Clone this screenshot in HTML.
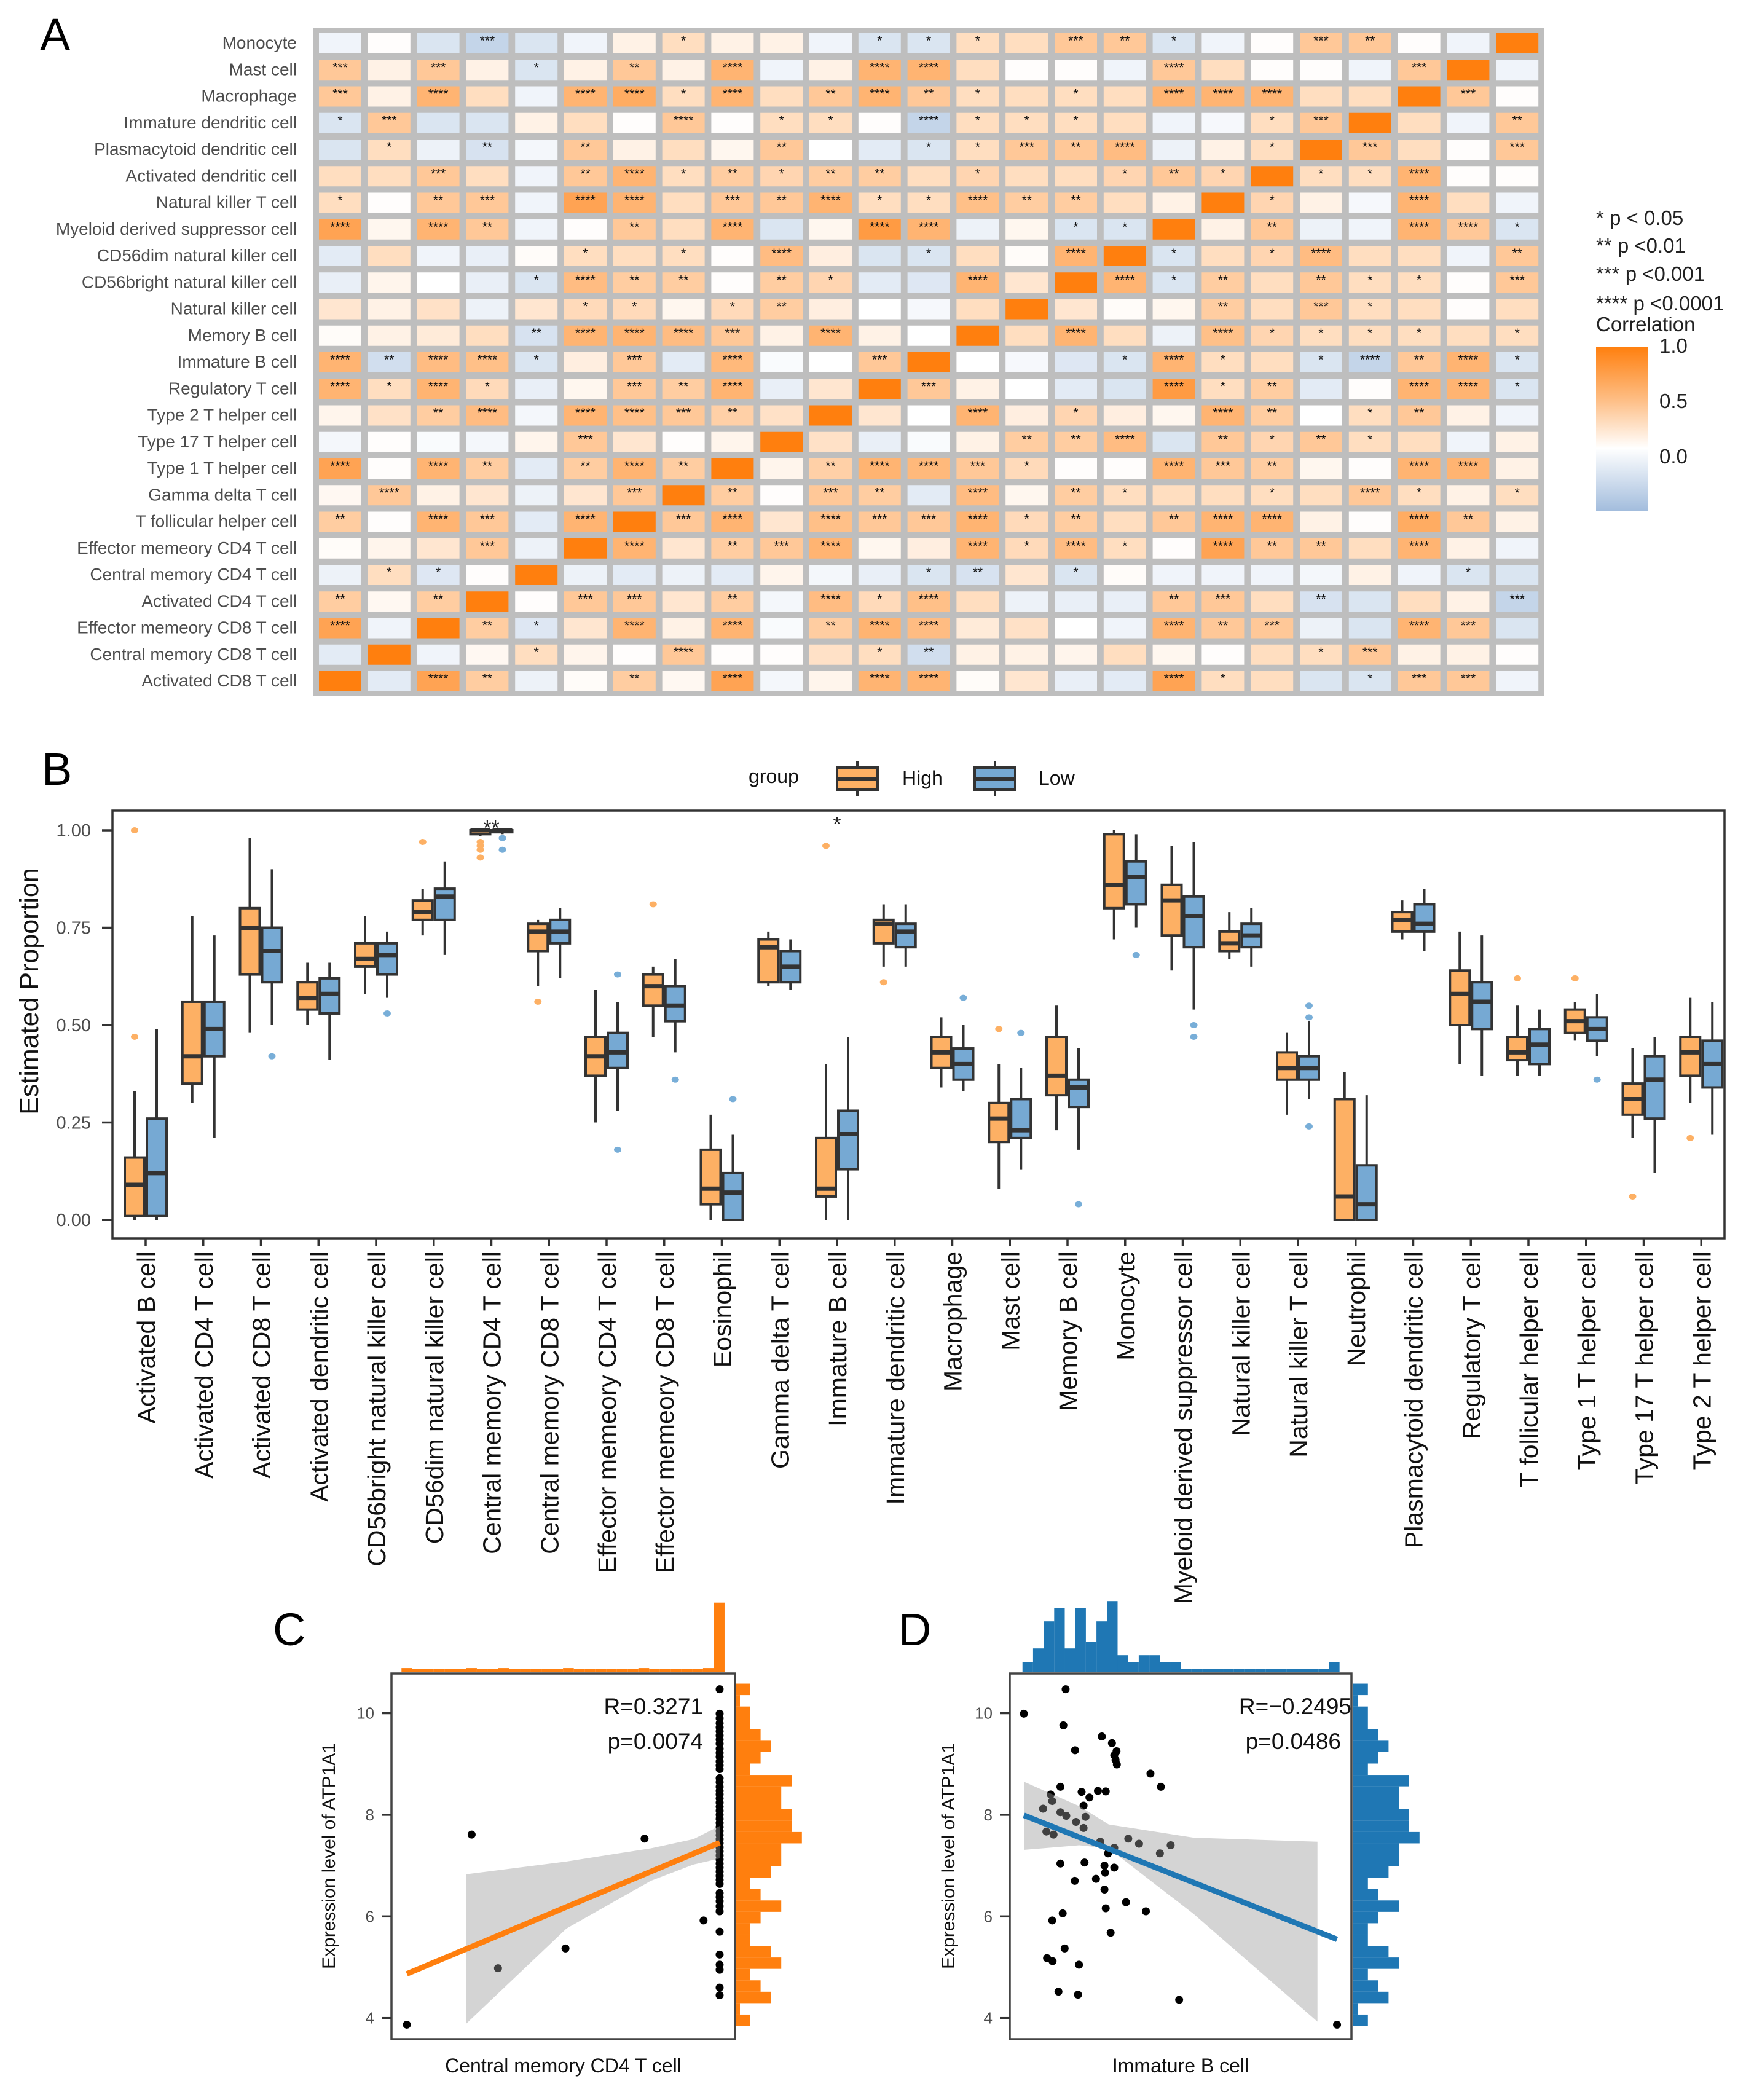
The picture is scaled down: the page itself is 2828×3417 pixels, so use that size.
<!DOCTYPE html>
<html><head><meta charset="utf-8"><style>
html,body{margin:0;padding:0;background:#fff}
svg{display:block;font-family:"Liberation Sans",Arial,sans-serif}
</style></head><body>
<svg id="fig" xmlns="http://www.w3.org/2000/svg" width="2828" height="3417" viewBox="0 0 2828 3417">
<rect width="2828" height="3417" fill="#fff"/>
<text x="65" y="82" font-size="74" fill="#000">A</text>
<text x="68" y="1277" font-size="74" fill="#000">B</text>
<text x="444" y="2677" font-size="74" fill="#000">C</text>
<text x="1462" y="2677" font-size="74" fill="#000">D</text>
<g id="heat"></g>
<g id="legA">
<text x="2597" y="366" font-size="33" fill="#222">* p &lt; 0.05</text>
<text x="2597" y="411" font-size="33" fill="#222">** p &lt;0.01</text>
<text x="2597" y="457" font-size="33" fill="#222">*** p &lt;0.001</text>
<text x="2597" y="505" font-size="33" fill="#222">**** p &lt;0.0001</text>
<text x="2597" y="539" font-size="33" fill="#222">Correlation</text>
<defs><linearGradient id="cg" x1="0" y1="0" x2="0" y2="1">
<stop offset="0" stop-color="#FF7F0E"/><stop offset="0.33" stop-color="#FEBF87"/><stop offset="0.62" stop-color="#FFFFFF"/><stop offset="1" stop-color="#A3BDDD"/></linearGradient></defs>
<rect x="2597" y="564" width="84" height="267" fill="url(#cg)"/>
<text x="2700" y="574" font-size="33" fill="#222">1.0</text>
<text x="2700" y="664" font-size="33" fill="#222">0.5</text>
<text x="2700" y="754" font-size="33" fill="#222">0.0</text>
</g>
<g id="boxB"></g>
<g id="pC"></g>
<g id="pD"></g>
</svg>
<script>
const NS='http://www.w3.org/2000/svg';
function mk(tag,attrs,parent,txt){const e=document.createElementNS(NS,tag);for(const k in attrs)e.setAttribute(k,attrs[k]);if(txt!==undefined)e.textContent=txt;parent.appendChild(e);return e;}

/* ---------- Panel A data ---------- */
const heatRows=["Monocyte","Mast cell","Macrophage","Immature dendritic cell","Plasmacytoid dendritic cell","Activated dendritic cell","Natural killer T cell","Myeloid derived suppressor cell","CD56dim natural killer cell","CD56bright natural killer cell","Natural killer cell","Memory B cell","Immature  B cell","Regulatory T cell","Type 2 T helper cell","Type 17 T helper cell","Type 1 T helper cell","Gamma delta T cell","T follicular helper cell","Effector memeory CD4 T cell","Central memory CD4 T cell","Activated CD4 T cell","Effector memeory CD8 T cell","Central memory CD8 T cell","Activated CD8 T cell"];
const corrTri=[
[-.08,.01,-.2,-.32,-.2,-.08,.08,.2,.08,.08,-.08,-.2,-.2,.2,.2,.33,.33,-.2,-.08,.01,.33,.33,.01,-.08],
[.33,.08,.33,.08,-.2,.08,.33,.08,.45,-.08,.08,.45,.45,.2,.01,.01,-.08,.33,.2,.01,.01,-.08,.33],
[.33,.08,.45,.2,-.08,.45,.5,.2,.45,.2,.33,.45,.33,.2,.2,.2,.2,.45,.45,.45,.2,.2],
[-.2,.33,-.2,-.2,.08,.2,.01,.33,.01,.2,.2,.01,-.32,.2,.2,.2,.2,-.08,-.05,.2,.33],
[-.2,.2,-.1,-.22,-.06,.33,.08,.2,.05,.33,0,-.15,-.2,.2,.33,.33,.4,-.1,.08,.2],
[.2,.2,.33,.2,-.08,.33,.45,.2,.3,.25,.3,.3,.2,.25,.2,.2,.25,.33,.25],
[.2,.01,.33,.33,-.08,.55,.45,.2,.33,.33,.45,.2,.2,.38,.3,.3,.2,.08],
[.55,.05,.45,.33,-.08,.01,.33,.2,.45,-.2,.05,.6,.45,-.1,.05,-.2,-.2],
[-.15,.2,-.08,-.12,.02,.2,.2,.2,.01,.4,.1,-.2,-.2,.2,.02,.45],
[-.12,.06,0,-.12,-.2,.4,.3,.3,.01,.3,.25,-.15,-.18,.45,.15],
[.15,.08,.18,-.1,.15,.22,.22,.05,.22,.3,.1,0,-.05,.2],
[.02,.08,.12,.2,-.22,.45,.45,.4,.33,.08,.45,.08,0],
[.45,-.25,.4,.38,-.2,.1,.33,-.15,.42,-.03,0,.33],
[.45,.2,.45,.22,-.12,.05,.33,.3,.45,-.12,.15],
[.06,.18,.3,.4,-.06,.45,.38,.33,.28,.18],
[-.06,.01,-.03,-.06,.06,.33,.15,.01,.06],
[.55,.01,.45,.3,-.15,.3,.45,.3],
[.04,.33,.08,.15,-.1,.15,.33],
[.3,.01,.45,.33,-.15,.45],
[.02,.06,.15,.33,-.1],
[-.1,.2,-.18,.01],
[.3,.04,.3],
[.55,-.08],
[-.15],
[]];
const starTri=[
[0,0,0,3,0,0,0,1,0,0,0,1,1,1,0,3,2,1,0,0,3,2,0,0],
[3,0,3,0,1,0,2,0,4,0,0,4,4,0,0,0,0,4,0,0,0,0,3],
[3,0,4,0,0,4,4,1,4,0,2,4,2,1,0,1,0,4,4,4,0,0],
[1,3,0,0,0,0,0,4,0,1,1,0,4,1,1,1,0,0,0,1,3],
[0,1,0,2,0,2,0,0,0,2,0,0,1,1,3,2,4,0,0,1],
[0,0,3,0,0,2,4,1,2,1,2,2,0,1,0,0,1,2,1],
[1,0,2,3,0,4,4,0,3,2,4,1,1,4,2,2,0,0],
[4,0,4,2,0,0,2,0,4,0,0,4,4,0,0,1,1],
[0,0,0,0,0,1,0,1,0,4,0,0,1,0,0,4],
[0,0,0,0,1,4,2,2,0,2,1,0,0,4,0],
[0,0,0,0,0,1,1,0,1,2,0,0,0,0],
[0,0,0,0,2,4,4,4,3,0,4,0,0],
[4,2,4,4,1,0,3,0,4,0,0,3],
[4,1,4,1,0,0,3,2,4,0,0],
[0,0,2,4,0,4,4,3,2,0],
[0,0,0,0,0,3,0,0,0],
[4,0,4,2,0,2,4,2],
[0,4,0,0,0,0,3],
[2,0,4,3,0,4],
[0,0,0,3,0],
[0,1,1,0],
[2,0,2],
[4,0],
[0],
[]];
function mix(a,b,t){return 'rgb('+a.map((v,i)=>Math.round(v+(b[i]-v)*t)).join(',')+')';}
function corrColor(r){if(r>=0)return mix([255,255,255],[255,127,14],Math.min(1,r>=0.99?1:r*1.3));return mix([255,255,255],[163,189,221],Math.min(1,-r/0.5));}
(function(){
const g=document.getElementById('heat');const N=25;
const bg=mk('rect',{x:510,y:45,width:2003,height:1088,fill:'#BEBEBE'},g);


const cx0=519,pitchX=79.8,cy0=54,pitchY=43.25,cw=69,ch=33;
for(let r=0;r<N;r++){
 const lab=mk('text',{x:483,y:cy0+r*pitchY+25,'font-size':28,fill:'#4D4D4D','text-anchor':'end'},g,heatRows[r]);
 
 
 for(let c=0;c<N;c++){
  let v,s;
  if(c===N-1-r){v=1;s=0;}
  else if(c<N-1-r){v=corrTri[r][c];s=starTri[r][c];}
  else{v=corrTri[N-1-c][N-1-r];s=starTri[N-1-c][N-1-r];}
  const x=cx0+c*pitchX,y=cy0+r*pitchY;
  const rc=mk('rect',{x:x,y:y,width:cw,height:ch,fill:corrColor(v)},g);
  
  
  if(s>0){const t=mk('text',{x:x+cw/2,y:y+19,'font-size':21,fill:'#111','text-anchor':'middle'},g,'*'.repeat(s));
   
   }
 }
}
})();

/* ---------- Panel B data ---------- */
const cats=["Activated B cell","Activated CD4 T cell","Activated CD8 T cell","Activated dendritic cell","CD56bright natural killer cell","CD56dim natural killer cell","Central memory CD4 T cell","Central memory CD8 T cell","Effector memeory CD4 T cell","Effector memeory CD8 T cell","Eosinophil","Gamma delta T cell","Immature  B cell","Immature dendritic cell","Macrophage","Mast cell","Memory B cell","Monocyte","Myeloid derived suppressor cell","Natural killer cell","Natural killer T cell","Neutrophil","Plasmacytoid dendritic cell","Regulatory T cell","T follicular helper cell","Type 1 T helper cell","Type 17 T helper cell","Type 2 T helper cell"];
// [whiskerLow, q1, median, q3, whiskerHigh]
const highBox=[[0,.01,.09,.16,.33],[.30,.35,.42,.56,.78],[.48,.63,.75,.80,.98],[.50,.54,.57,.61,.66],[.58,.65,.67,.71,.78],[.73,.77,.79,.82,.85],[.985,.99,1,1,1],[.60,.69,.74,.76,.77],[.25,.37,.42,.47,.59],[.47,.55,.60,.63,.65],[0,.04,.08,.18,.27],[.60,.61,.70,.72,.74],[0,.06,.08,.21,.40],[.65,.71,.76,.77,.81],[.34,.39,.43,.47,.52],[.08,.20,.26,.30,.40],[.23,.32,.37,.47,.55],[.72,.80,.86,.99,1],[.64,.73,.82,.86,.96],[.67,.69,.71,.74,.79],[.27,.36,.39,.43,.48],[0,0,.06,.31,.38],[.72,.74,.77,.79,.82],[.40,.50,.58,.64,.74],[.37,.41,.43,.47,.55],[.46,.48,.51,.54,.56],[.21,.27,.31,.35,.44],[.30,.37,.43,.47,.57]];
const lowBox=[[0,.01,.12,.26,.49],[.21,.42,.49,.56,.73],[.50,.61,.69,.75,.90],[.41,.53,.58,.62,.66],[.57,.63,.68,.71,.74],[.68,.77,.83,.85,.92],[.99,.995,1,1,1],[.62,.71,.74,.77,.80],[.28,.39,.43,.48,.56],[.43,.51,.55,.60,.67],[0,0,.07,.12,.22],[.59,.61,.65,.69,.72],[0,.13,.22,.28,.47],[.65,.70,.74,.76,.81],[.33,.36,.40,.44,.50],[.13,.21,.23,.31,.39],[.18,.29,.34,.36,.44],[.75,.81,.88,.92,.99],[.54,.70,.78,.83,.97],[.65,.70,.73,.76,.80],[.31,.36,.39,.42,.51],[0,0,.04,.14,.32],[.69,.74,.76,.81,.85],[.37,.49,.56,.61,.73],[.37,.40,.45,.49,.54],[.42,.46,.49,.52,.58],[.12,.26,.36,.42,.47],[.22,.34,.40,.46,.56]];
const highOut=[[.47,1.0],[],[],[],[],[.97],[.93,.95,.96,.97],[.56],[],[.81],[],[],[.96],[.61],[],[.49],[],[],[],[],[],[],[],[],[.62],[.62],[.06],[.21]];
const lowOut=[[],[],[.42],[],[.53],[],[.95,.98],[],[.63,.18],[.36],[.31],[],[],[],[.57],[.48],[.04],[.68],[.50,.47],[],[.55,.52,.24],[],[],[],[],[.36],[],[]];
const sigLabels=[["Central memory CD4 T cell","**",1.01],["Immature  B cell","*",1.02]];
(function(){
const g=document.getElementById('boxB');
const L=183,R=2806,T=1319,B=2015;
const yS=v=>1985-v*634; const xS=i=>237+i*93.75;
mk('rect',{x:L,y:T,width:R-L,height:B-T,fill:'none',stroke:'#333','stroke-width':3.5},g);
[0,.25,.5,.75,1].forEach(v=>{
 mk('line',{x1:166,x2:L,y1:yS(v),y2:yS(v),stroke:'#333','stroke-width':3.5},g);
 const t=mk('text',{x:148,y:yS(v)+10,'font-size':29,fill:'#4D4D4D','text-anchor':'end'},g,v.toFixed(2));
 
 
});
const yt=mk('text',{x:0,y:0,'font-size':43,fill:'#111','text-anchor':'middle',transform:'translate(62,1613) rotate(-90)'},g,'Estimated Proportion');


const series=[{box:highBox,out:highOut,fill:'#FDB064',pt:'#FDB064',off:-18,name:'high'},{box:lowBox,out:lowOut,fill:'#76A9D3',pt:'#78AED8',off:18,name:'low'}];
cats.forEach((c,i)=>{
 const cx=xS(i);
 mk('line',{x1:cx,x2:cx,y1:B,y2:B+12,stroke:'#333','stroke-width':3.5},g);
 const t=mk('text',{x:0,y:0,'font-size':41,fill:'#111','text-anchor':'end',transform:'translate('+(cx+15)+',2036) rotate(-90)'},g,c);
 
 
 series.forEach(s=>{
  const b=s.box[i],x=cx+s.off,w=32;
  const wl=mk('line',{x1:x,x2:x,y1:yS(b[0]),y2:yS(b[4]),stroke:'#333','stroke-width':4},g);
  
  
  const r=mk('rect',{x:x-w/2,y:yS(b[3]),width:w,height:Math.max(2,yS(b[1])-yS(b[3])),fill:s.fill,stroke:'#333','stroke-width':4},g);
  
  
  const m=mk('line',{x1:x-w/2,x2:x+w/2,y1:yS(b[2]),y2:yS(b[2]),stroke:'#333','stroke-width':7},g);
  
  
  s.out[i].forEach(v=>{const o=mk('ellipse',{cx:x,cy:yS(v),rx:6,ry:5,fill:s.pt},g);
   
   });
 });
});
sigLabels.forEach(s=>{const i=cats.indexOf(s[0]);
 const t=mk('text',{x:xS(i),y:yS(s[2])+14,'font-size':34,fill:'#222','text-anchor':'middle'},g,s[1]);
 
 });
const lg=mk('g',{},g);
mk('text',{x:1218,y:1274,'font-size':32,fill:'#111'},lg,'group');
[[1362,'#FDB064','High',1468],[1586,'#76A9D3','Low',1690]].forEach(k=>{
 mk('line',{x1:k[0]+33,x2:k[0]+33,y1:1238,y2:1296,stroke:'#333','stroke-width':4},lg);
 mk('rect',{x:k[0],y:1249,width:66,height:36,fill:k[1],stroke:'#333','stroke-width':4},lg);
 mk('line',{x1:k[0],x2:k[0]+66,y1:1267,y2:1267,stroke:'#333','stroke-width':6},lg);
 const t=mk('text',{x:k[3],y:1277,'font-size':32,fill:'#111'},lg,k[2]);
 
 
});
})();

/* ---------- Panel C/D data ---------- */
const cX=[0.93,0.9445,0.9504,0.9655,0.9832,0.9964,1,1,1,1,1,1,1,1,1,1,1,1,1,1,1,1,1,1,1,1,1,1,1,1,1,1,1,1,1,1,1,1,1,1,1,1,1,1,1,1,1,1,1,1,1,1,1,1,1,1,1,1,1];
const cY=[3.87,7.61,4.98,5.37,7.53,5.92,10.47,9.99,9.9,9.8,9.72,9.64,9.56,9.48,9.4,9.3,9.22,9.14,9.05,8.97,8.9,8.72,8.64,8.55,8.47,8.4,8.32,8.24,8.16,8.08,8.0,7.92,7.84,7.76,7.68,7.6,7.52,7.44,7.36,7.28,7.2,7.12,7.04,6.96,6.88,6.8,6.72,6.64,6.46,6.38,6.3,6.2,6.1,5.7,5.25,5.05,4.95,4.6,4.45];
const cFit=[[0.93,4.87],[1.0,7.45]];
const cBandX=[0.9433,0.9657,0.9846,0.9941,1.0];
const cBandHi=[6.83,7.08,7.34,7.52,7.78];
const cBandLo=[3.89,5.76,6.70,7.02,7.14];
const cTopCounts=[1,0,0,0,0,0,1,0,0,1,0,0,0,0,0,1,0,0,0,0,0,0,1,0,0,0,0,0,1,57];
const dX=[0.128,0,0.121,0.239,0.270,0.157,0.284,0.277,0.281,0.285,0.388,0.420,0.112,0.082,0.177,0.227,0.251,0.201,0.087,0.183,0.059,0.112,0.130,0.189,0.160,0.183,0.069,0.091,0.234,0.320,0.353,0.450,0.277,0.258,0.417,0.112,0.186,0.247,0.277,0.249,0.221,0.156,0.247,0.313,0.119,0.251,0.374,0.087,0.266,0.125,0.071,0.088,0.169,0.106,0.166,0.476,0.960];
const dY=[10.47,9.99,9.76,9.54,9.41,9.27,9.25,9.17,9.08,8.99,8.81,8.55,8.55,8.40,8.45,8.47,8.46,8.34,8.27,8.18,8.12,8.05,7.98,7.96,7.86,7.74,7.67,7.61,7.47,7.53,7.43,7.40,7.35,7.24,7.24,7.04,7.06,7.00,6.96,6.86,6.74,6.70,6.53,6.28,6.06,6.16,6.10,5.92,5.68,5.37,5.18,5.12,5.05,4.52,4.46,4.36,3.87];
const dFit=[[0,7.99],[0.96,5.55]];
const dBandX=[0,0.17,0.26,0.52,0.9];
const dBandHi=[8.65,8.17,7.81,7.55,7.47];
const dBandLo=[7.31,7.40,7.34,6.05,3.93];
const dTopCounts=[1,3,7,9,3,9,4,7,10,2,1,2,2,1,1,0,0,0,0,0,0,0,0,0,0,0,0,0,0,1];
const yRightCounts=[1,0,1,1,2,3,2,1,5,4,4,5,5,6,4,4,3,1,2,4,2,1,1,3,4,1,2,3,0,1];
const yTicks=[10,8,6,4];

function scatter(gid,o){
 const g=document.getElementById(gid);
 const yS=v=>2787.5+(10-v)*82.7;
 const xS=o.xS;
 const base=2721;
 o.top.forEach((c,i)=>{const x0=xS(o.binStart+i*o.binW),x1=xS(o.binStart+(i+1)*o.binW);
  const h=o.topBase+c*o.topUnit;
  const r=mk('rect',{x:x0,y:base-h,width:x1-x0,height:h,fill:o.col},g);
  
  });
 yRightCounts.forEach((c,i)=>{const v0=10.58-i*0.2245,v1=v0-0.2245;
  const r=mk('rect',{x:o.rx,y:yS(v0),width:7+c*16.8,height:yS(v1)-yS(v0),fill:o.col},g);
  
  });
 const fr=mk('rect',{x:o.L,y:2723,width:o.R-o.L,height:595,fill:'#fff',stroke:'#444','stroke-width':3.5},g);
 
 
 yTicks.forEach(v=>{mk('line',{x1:o.L-16,x2:o.L,y1:yS(v),y2:yS(v),stroke:'#333','stroke-width':3.5},g);
  const t=mk('text',{x:o.L-28,y:yS(v)+9,'font-size':26,fill:'#4D4D4D','text-anchor':'end'},g,String(v));
  
  });
 o.xs.forEach((x,i)=>{const p=mk('circle',{cx:xS(x),cy:yS(o.ys[i]),r:6.5,fill:'#000'},g);
  
  });
 let d='M'+o.bx.map((x,i)=>xS(x)+','+yS(o.bh[i])).join(' L');
 for(let i=o.bx.length-1;i>=0;i--)d+=' L'+xS(o.bx[i])+','+yS(o.bl[i]);
 const band=mk('path',{d:d+' Z',fill:'rgba(153,153,153,0.42)'},g);
 
 
 const ln=mk('line',{x1:xS(o.fit[0][0]),y1:yS(o.fit[0][1]),x2:xS(o.fit[1][0]),y2:yS(o.fit[1][1]),stroke:o.col,'stroke-width':9},g);
 
 
 const t1=mk('text',{x:o.tx,y:2789,'font-size':37,fill:'#111','text-anchor':'end'},g,o.r);
 
 
 const t2=mk('text',{x:o.tx2,y:2846,'font-size':37,fill:'#111','text-anchor':'end'},g,o.p);
 
 
 const yt=mk('text',{x:0,y:0,'font-size':30,fill:'#111','text-anchor':'middle',transform:'translate('+o.ytx+',3020) rotate(-90)'},g,'Expression level of ATP1A1');
 
 
 const xt=mk('text',{x:(o.L+o.R)/2,y:3372,'font-size':32,fill:'#111','text-anchor':'middle'},g,o.xt);
 
 
}
scatter('pC',{xS:x=>662+(x-0.93)*7271,L:637,R:1196,rx:1197,col:'#FF7F0E',xs:cX,ys:cY,fit:cFit,bx:cBandX,bh:cBandHi,bl:cBandLo,
 top:cTopCounts,binStart:0.9288,binW:0.00241,topBase:5,topUnit:1.9,r:'R=0.3271',p:'p=0.0074',tx:1144,tx2:1144,ytx:545,xt:'Central memory CD4 T cell'});
scatter('pD',{xS:x=>1666+x*530.8,L:1643,R:2199,rx:2202,col:'#1F77B4',xs:dX,ys:dY,fit:dFit,bx:dBandX,bh:dBandHi,bl:dBandLo,
 top:dTopCounts,binStart:-0.0043,binW:0.0324,topBase:5.8,topUnit:11,r:'R=\u22120.2495',p:'p=0.0486',tx:2199,tx2:2182,ytx:1553,xt:'Immature  B cell'});
</script>
</body></html>
